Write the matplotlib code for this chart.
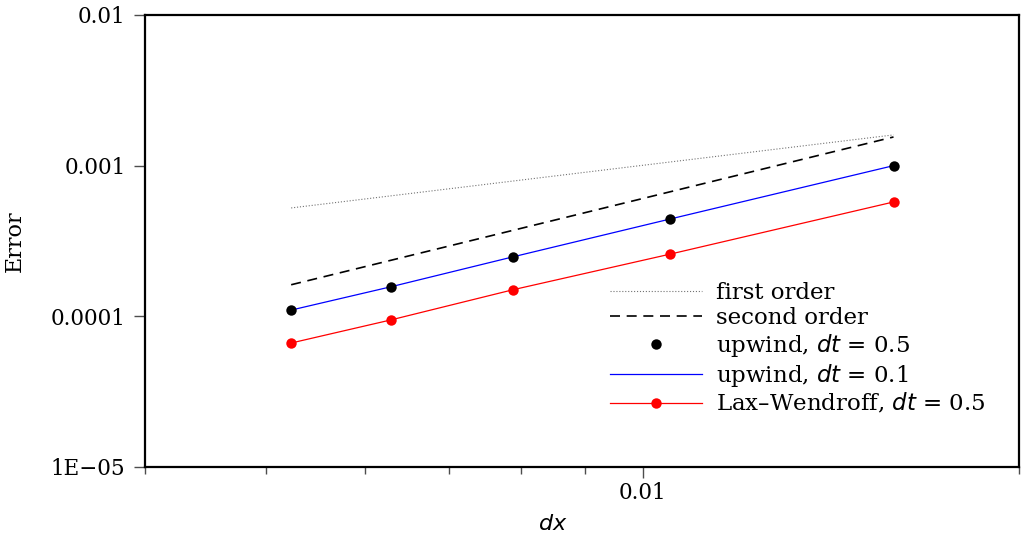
import numpy as np
import matplotlib
matplotlib.use("Agg")
import matplotlib.pyplot as plt
from matplotlib.ticker import FixedLocator, FixedFormatter, NullLocator, LogLocator, NullFormatter

plt.rcParams['font.family'] = ['DejaVu Serif']
plt.rcParams['mathtext.fontset'] = 'dejavusans'

# grid spacings
dx = [1/191, 1/159, 1/127, 1/95, 1/63]

# errors
err_upwind_05 = [1.10e-4, 1.57e-4, 2.48e-4, 4.43e-4, 1.00e-3]
err_upwind_01 = [1.10e-4, 1.57e-4, 2.48e-4, 4.43e-4, 1.00e-3]
err_laxw_05 = [6.65e-5, 9.46e-5, 1.50e-4, 2.59e-4, 5.74e-4]

# reference slopes (end points)
dx_ref = [dx[0], dx[-1]]
first_order = [5.24e-4, 1.60e-3]
second_order = [1.62e-4, 1.55e-3]

y_ticks = [1e-5, 1e-4, 1e-3, 1e-2]
y_ticklabels = ["1E\u221205", "0.0001", "0.001", "0.01"]
x_ticks = [0.01]
x_ticklabels = ["0.01"]

fig = plt.figure(figsize=(10.26, 5.41), dpi=100)
ax = fig.add_axes([0.1413, 0.1368, 0.8519, 0.8355])

ax.plot(dx_ref, first_order, ls=':', color='0.45', lw=0.8, label='first order')
ax.plot(dx_ref, second_order, ls=(0, (6, 4)), color='black', lw=1.2, label='second order')
ax.plot(dx, err_upwind_05, ls='none', marker='o', color='black', ms=7.5, mec='none',
        label='upwind, $dt$ = 0.5', zorder=4)
ax.plot(dx, err_upwind_01, color='blue', lw=0.9, label='upwind, $dt$ = 0.1')
ax.plot(dx, err_laxw_05, color='red', lw=0.9, marker='o', ms=7.5, mec='none',
        label='Lax\u2013Wendroff, $dt$ = 0.5')

ax.set_xscale('log')
ax.set_yscale('log')
ax.set_xlim(0.004, 0.02)
ax.set_ylim(1e-5, 1e-2)

ax.yaxis.set_major_locator(FixedLocator(y_ticks))
ax.yaxis.set_major_formatter(FixedFormatter(y_ticklabels))
ax.yaxis.set_minor_locator(NullLocator())
ax.xaxis.set_major_locator(FixedLocator(x_ticks))
ax.xaxis.set_major_formatter(FixedFormatter(x_ticklabels))
ax.xaxis.set_minor_locator(LogLocator(base=10, subs=np.arange(2, 10)))
ax.xaxis.set_minor_formatter(NullFormatter())

ax.tick_params(which='major', length=8, width=1, color='0.3', labelsize=15.5, pad=6)
ax.tick_params(axis='x', which='major', pad=3)
ax.tick_params(which='minor', length=5, width=1, color='0.3')
for s in ax.spines.values():
    s.set_linewidth(1.6)

ax.set_xlabel('$dx$', fontsize=16, labelpad=6)
ax.xaxis.label.set_x(0.466)
ax.set_ylabel('Error', fontsize=16, labelpad=18)

ax.legend(loc='upper left', bbox_to_anchor=(0.522, 0.43), frameon=False,
          fontsize=16.5, handlelength=4.0, handletextpad=0.6, labelspacing=0.13,
          borderaxespad=0)

fig.savefig('out.png', dpi=100)
